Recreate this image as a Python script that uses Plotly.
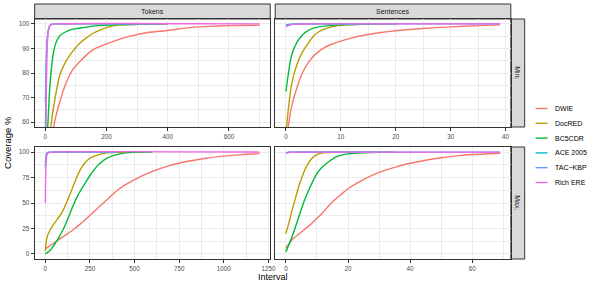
import plotly.graph_objects as go

W, H = 598, 287

SERIES = ["DWIE", "DocRED", "BC5CDR", "ACE 2005", "TAC\u2212KBP", "Rich ERE"]
COLORS = ["#F8766D", "#B79F00", "#00BA38", "#00BFC4", "#619CFF", "#F564E3"]

# ---- Tokens / Min. ----
tok_min_dwie_x = [0, 10, 20, 27, 48, 70, 90, 113, 140, 167, 220, 274, 340, 400, 470, 540, 600, 700]
tok_min_dwie_y = [3, 30, 48, 58, 68.6, 76.6, 81.5, 84.7, 88, 90.2, 92.8, 94.9, 96.6, 97.3, 98.5, 99.0, 99.3, 99.5]
tok_min_docred_x = [0, 8, 18, 32, 48, 64, 81, 97, 113, 135, 156, 178, 199, 242, 300, 400]
tok_min_docred_y = [10, 38, 58, 70, 79.4, 84, 87.4, 90, 92.2, 94.4, 96.2, 97.5, 98.5, 99.6, 99.8, 99.9]
tok_min_bc5cdr_x = [0, 4, 8, 16, 27, 37, 48, 64, 81, 100, 124, 150, 177, 230, 300, 380]
tok_min_bc5cdr_y = [20, 45, 58.5, 76.6, 88.8, 93, 95.3, 96.6, 97.6, 98.1, 98.5, 99.0, 99.3, 99.6, 99.8, 99.9]
tok_min_ace_x = [0, 3, 6, 10, 15, 20, 30, 300]
tok_min_ace_y = [55, 82, 93, 97.5, 99.3, 99.8, 100, 100]
tok_min_tac_x = [0, 3, 6, 10, 15, 20, 30, 400]
tok_min_tac_y = [68, 86, 94, 97.8, 99.4, 99.8, 100, 100]
tok_min_rich_x = [0, 3, 5, 8, 12, 16, 22, 30, 700]
tok_min_rich_y = [35, 70, 86, 95, 98.4, 99.4, 99.8, 100, 100]

# ---- Sentences / Min. ----
sen_min_dwie_x = [0, 1, 2, 3, 4, 5, 6, 7, 8, 10, 12, 15, 20, 25, 30, 35, 39]
sen_min_dwie_y = [52, 66, 74, 80, 84, 86.8, 88.8, 90.3, 91.4, 93, 94.3, 95.7, 97.2, 98.1, 98.8, 99.3, 99.6]
sen_min_docred_x = [0, 1, 2, 3, 4, 5, 6, 7, 8, 9, 10, 12, 15, 20]
sen_min_docred_y = [56, 75, 83.5, 88.5, 92, 95, 96.8, 97.9, 98.6, 99.1, 99.4, 99.7, 99.9, 100]
sen_min_bc5cdr_x = [0, 1, 2, 3, 4, 5, 6, 7, 8, 10, 15, 20]
sen_min_bc5cdr_y = [72.5, 87, 92.5, 95.5, 97.3, 98.3, 98.8, 99.1, 99.3, 99.6, 99.9, 100]
sen_min_ace_x = [0, 1, 2, 5, 17]
sen_min_ace_y = [99.6, 99.9, 100, 100, 100]
sen_min_tac_x = [0, 1, 2, 5, 39]
sen_min_tac_y = [99.2, 99.8, 99.95, 100, 100]
sen_min_rich_x = [0, 1, 2, 5, 39]
sen_min_rich_y = [98.9, 99.7, 99.9, 100, 100]

# ---- Tokens / Max. ----
tok_max_dwie_x = [0, 50, 100, 150, 200, 250, 300, 350, 400, 450, 500, 600, 700, 800, 900, 1000, 1100, 1200]
tok_max_dwie_y = [5, 11, 17, 23, 30, 38, 46, 54, 62, 68, 73, 81, 87, 91, 94, 96, 97.5, 98.5]
tok_max_docred_x = [0, 5, 10, 25, 50, 75, 100, 125, 150, 175, 200, 225, 250, 300, 350, 400, 500]
tok_max_docred_y = [3, 12, 17, 23, 30, 36, 43, 53, 64, 75, 84, 90, 94, 97.5, 99.2, 99.8, 100]
tok_max_bc5cdr_x = [0, 25, 50, 75, 100, 125, 150, 175, 200, 225, 250, 275, 300, 350, 400, 450, 500, 600]
tok_max_bc5cdr_y = [0, 3, 9, 16, 24, 34, 45, 55, 63, 70, 77, 83, 88, 94.5, 97.5, 99.2, 99.8, 100]
tok_max_ace_x = [0, 3, 6, 10, 20, 30, 400]
tok_max_ace_y = [85, 93, 97, 98.8, 99.7, 100, 100]
tok_max_tac_x = [0, 3, 6, 10, 20, 30, 400]
tok_max_tac_y = [90, 95, 98, 99.2, 99.8, 100, 100]
tok_max_rich_x = [0, 2, 5, 10, 20, 30, 1200]
tok_max_rich_y = [50, 80, 93, 98, 99.5, 100, 100]

# ---- Sentences / Max. ----
sen_max_dwie_x = [0, 2, 4, 6, 8, 10, 12, 14, 16, 18, 20, 25, 30, 35, 40, 45, 50, 55, 60, 65, 69]
sen_max_dwie_y = [6, 14, 19, 24, 29, 35, 41, 48, 54, 59, 64, 73, 80, 85, 89, 92, 94.5, 96.3, 97.6, 98.3, 98.8]
sen_max_docred_x = [0, 1, 2, 3, 4, 5, 6, 7, 8, 9, 10, 12, 15, 20]
sen_max_docred_y = [20, 31, 43, 54, 65, 74, 82, 88, 92.5, 95.5, 97.5, 99.2, 99.8, 100]
sen_max_bc5cdr_x = [0, 2, 4, 6, 8, 10, 12, 14, 16, 18, 20, 25, 30, 35]
sen_max_bc5cdr_y = [2, 17, 35, 53, 67, 79, 86, 91, 95, 97, 98.2, 99.3, 99.8, 100]
sen_max_ace_x = [0, 1, 2, 30]
sen_max_ace_y = [99.3, 99.9, 100, 100]
sen_max_tac_x = [0, 1, 2, 69]
sen_max_tac_y = [99.0, 99.8, 100, 100]
sen_max_rich_x = [0, 1, 2, 69]
sen_max_rich_y = [98.8, 99.7, 100, 100]

PANELS = [
    ("x", "y", [(tok_min_dwie_x, tok_min_dwie_y), (tok_min_docred_x, tok_min_docred_y),
                (tok_min_bc5cdr_x, tok_min_bc5cdr_y), (tok_min_ace_x, tok_min_ace_y),
                (tok_min_tac_x, tok_min_tac_y), (tok_min_rich_x, tok_min_rich_y)]),
    ("x2", "y2", [(sen_min_dwie_x, sen_min_dwie_y), (sen_min_docred_x, sen_min_docred_y),
                  (sen_min_bc5cdr_x, sen_min_bc5cdr_y), (sen_min_ace_x, sen_min_ace_y),
                  (sen_min_tac_x, sen_min_tac_y), (sen_min_rich_x, sen_min_rich_y)]),
    ("x3", "y3", [(tok_max_dwie_x, tok_max_dwie_y), (tok_max_docred_x, tok_max_docred_y),
                  (tok_max_bc5cdr_x, tok_max_bc5cdr_y), (tok_max_ace_x, tok_max_ace_y),
                  (tok_max_tac_x, tok_max_tac_y), (tok_max_rich_x, tok_max_rich_y)]),
    ("x4", "y4", [(sen_max_dwie_x, sen_max_dwie_y), (sen_max_docred_x, sen_max_docred_y),
                  (sen_max_bc5cdr_x, sen_max_bc5cdr_y), (sen_max_ace_x, sen_max_ace_y),
                  (sen_max_tac_x, sen_max_tac_y), (sen_max_rich_x, sen_max_rich_y)]),
]

COL_LABELS = ["Tokens", "Sentences"]
ROW_LABELS = ["Min.", "Max."]
Y_TITLE = "Coverage %"
X_TITLE = "Interval"

FONT = "Liberation Sans, Arial, sans-serif"
TICK_SIZE = 6.3

def fx(p):
    return p / W

def fy(p):
    return 1 - p / H

# panel boxes in pixels: (left, right, top, bottom)
BOX = {"x": (35, 273, 19, 127), "x2": (278, 516, 19, 127),
       "x3": (35, 273, 147, 259), "x4": (278, 516, 147, 259)}

fig = go.Figure()
for xa, ya, data in PANELS:
    for (xs, ys), name, col in zip(data, SERIES, COLORS):
        fig.add_trace(go.Scatter(x=xs, y=ys, mode="lines", name=name, xaxis=xa, yaxis=ya,
                                 line=dict(color=col, width=1.4, shape="spline", smoothing=0.6),
                                 showlegend=False, hoverinfo="skip"))

GRID = "#EBEBEB"
def xaxis_cfg(box, rng, dtick, ytag, labels=True):
    return dict(domain=[fx(box[0]), fx(box[1])], range=rng, anchor=ytag,
                tick0=0, dtick=dtick, ticks="outside", ticklen=3, tickcolor="#333333",
                tickwidth=1, showticklabels=labels,
                tickfont=dict(size=TICK_SIZE, color="#4D4D4D", family=FONT),
                showgrid=True, gridcolor=GRID, gridwidth=1, zeroline=False,
                minor=dict(tick0=dtick / 2, dtick=dtick, showgrid=True, gridcolor=GRID, gridwidth=0.5, ticks=""),
                showline=True, mirror=True, linecolor="#333333", linewidth=1)

def yaxis_cfg(box, rng, dtick, xtag, labels=True):
    return dict(domain=[fy(box[3]), fy(box[2])], range=rng, anchor=xtag,
                tick0=0, dtick=dtick, ticks="outside" if labels else "", ticklen=3,
                tickcolor="#333333", tickwidth=1, showticklabels=labels,
                tickfont=dict(size=TICK_SIZE, color="#4D4D4D", family=FONT),
                showgrid=True, gridcolor=GRID, gridwidth=1, zeroline=False,
                minor=dict(tick0=dtick / 2, dtick=dtick, showgrid=True, gridcolor=GRID, gridwidth=0.5, ticks=""),
                showline=True, mirror=True, linecolor="#333333", linewidth=1)

fig.update_layout(
    width=W, height=H, margin=dict(l=0, r=0, t=0, b=0),
    paper_bgcolor="white", plot_bgcolor="white", showlegend=False,
    font=dict(family=FONT),
    xaxis=xaxis_cfg(BOX["x"], [-35, 735], 200, "y"),
    yaxis=yaxis_cfg(BOX["x"], [58, 102], 10, "x"),
    xaxis2=xaxis_cfg(BOX["x2"], [-1.95, 40.95], 10, "y2"),
    yaxis2=yaxis_cfg(BOX["x2"], [58, 102], 10, "x2", labels=False),
    xaxis3=xaxis_cfg(BOX["x3"], [-60, 1260], 250, "y3"),
    yaxis3=yaxis_cfg(BOX["x3"], [-5, 105], 25, "x3"),
    xaxis4=xaxis_cfg(BOX["x4"], [-3.45, 72.45], 20, "y4"),
    yaxis4=yaxis_cfg(BOX["x4"], [-5, 105], 25, "x4", labels=False),
)

shapes = []
ann = []
# top strips
for (l, r), lab in zip([(35, 273), (278, 516)], COL_LABELS):
    shapes.append(dict(type="rect", xref="paper", yref="paper", x0=fx(l), x1=fx(r), y0=fy(19), y1=fy(4),
                       fillcolor="#D9D9D9", line=dict(color="#333333", width=1), layer="below"))
    ann.append(dict(text=lab, x=fx((l + r) / 2), y=fy(11.5), xref="paper", yref="paper",
                    showarrow=False, xanchor="center", yanchor="middle",
                    font=dict(size=7, color="#1A1A1A", family=FONT)))
# right strips
for (t, b), lab in zip([(19, 127), (147, 259)], ROW_LABELS):
    shapes.append(dict(type="rect", xref="paper", yref="paper", x0=fx(516), x1=fx(530), y0=fy(b), y1=fy(t),
                       fillcolor="#D9D9D9", line=dict(color="#333333", width=1), layer="below"))
    ann.append(dict(text=lab, x=fx(523), y=fy((t + b) / 2), xref="paper", yref="paper",
                    showarrow=False, xanchor="center", yanchor="middle", textangle=90,
                    font=dict(size=7, color="#1A1A1A", family=FONT)))
# axis titles
ann.append(dict(text=Y_TITLE, x=fx(8), y=fy(142), xref="paper", yref="paper", showarrow=False,
                xanchor="center", yanchor="middle", textangle=-90, font=dict(size=9.5, color="black", family=FONT)))
ann.append(dict(text=X_TITLE, x=fx(275.5), y=fy(276.5), xref="paper", yref="paper", showarrow=False,
                xanchor="center", yanchor="middle", font=dict(size=9, color="black", family=FONT)))
# legend
for i, (name, col) in enumerate(zip(SERIES, COLORS)):
    yc = 108.5 + i * 14.8
    shapes.append(dict(type="line", xref="paper", yref="paper", x0=fx(541), x1=fx(553), y0=fy(yc), y1=fy(yc),
                       line=dict(color=col, width=1.4)))
    ann.append(dict(text=name, x=fx(559), y=fy(yc), xref="paper", yref="paper", showarrow=False,
                    xanchor="left", yanchor="middle", font=dict(size=7, color="black", family=FONT)))

fig.update_layout(shapes=shapes, annotations=ann)
fig.write_html("out.html", config={"displayModeBar": False},
               post_script="document.body.style.margin='0';document.body.style.overflow='hidden';")
